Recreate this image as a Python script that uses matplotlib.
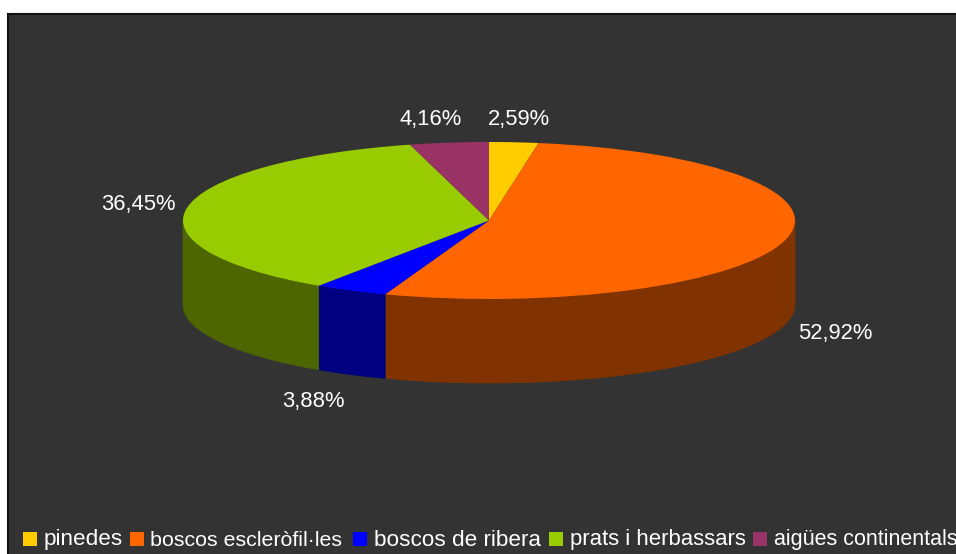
import numpy as np
import matplotlib
matplotlib.use("Agg")
import matplotlib.pyplot as plt
from matplotlib.patches import Rectangle

# dades
categories = ["pinedes", "boscos escleròfil·les", "boscos de ribera", "prats i herbassars", "aigües continentals"]
values = [2.59, 52.92, 3.88, 36.45, 4.16]
pct_labels = ["2,59%", "52,92%", "3,88%", "36,45%", "4,16%"]
colors = ["#FFCC00", "#FF6600", "#0000FF", "#99CC00", "#993366"]
side_colors = ["#806600", "#803300", "#000080", "#4D6600", "#4D1A33"]

W, H = 956, 554
# centre i radis del pastis en pixels
cx, cy, rx, ry, depth = 489, 220.5, 306, 78.5, 84
label_pos = [(519, 119.5), (835, 334), (313, 401), (138.5, 205), (431, 119.5)]
legend_x = [23, 130, 353, 549, 753]
legend_fs = [16.2, 15.4, 16.2, 15.9, 15.5]

plt.rcParams["font.family"] = ["Liberation Sans", "DejaVu Sans"]
fig = plt.figure(figsize=(W / 100, H / 100), dpi=100, facecolor="white")
ax = fig.add_axes([0, 0, 1, 1])

wedges, _ = ax.pie(values, colors=colors, startangle=90, counterclock=False, radius=1,
                   wedgeprops={"linewidth": 0, "zorder": 3})
ax.set_aspect("auto")
ax.set_xlim(-cx / rx, (W - cx) / rx)
ax.set_ylim((cy - H) / ry, cy / ry)
ax.patch.set_visible(False)

# fons fosc amb vora negra
ax.add_patch(Rectangle((8 / W, -0.02), 1.02, 1 - 14 / H + 0.02, transform=fig.transFigure,
                       facecolor="#333333", edgecolor="#111111", linewidth=1.5, zorder=1))

# parets laterals, nomes la meitat de davant
d = depth / ry
cum = np.cumsum([0] + values) / sum(values) * 360
for i in range(len(values)):
    t1 = 90 - cum[i]
    t2 = 90 - cum[i + 1]
    # tallem a la meitat inferior
    a = min(t1, 0)
    b = max(t2, -180)
    if a <= b:
        continue
    th = np.radians(np.linspace(a, b, 80))
    x = np.cos(th)
    y = np.sin(th)
    ax.fill(np.r_[x, x[::-1]], np.r_[y, y[::-1] - d], color=side_colors[i], linewidth=0.5, zorder=2)

# etiquetes
for lab, (px, py) in zip(pct_labels, label_pos):
    fig.text(px / W, 1 - py / H, lab, color="white", fontsize=15.8, ha="center", va="center")

# llegenda a ma, cada entrada a la seva x
for name, col, lx, fs in zip(categories, colors, legend_x, legend_fs):
    ax.add_patch(Rectangle((lx / W, 1 - 546 / H), 14 / W, 14 / H, transform=fig.transFigure,
                           facecolor=col, edgecolor="none", zorder=5))
    fig.text((lx + 20.5) / W, 1 - 545.5 / H, name, color="white", fontsize=fs, ha="left", va="baseline")

fig.savefig("out.png", dpi=100, facecolor="white")
